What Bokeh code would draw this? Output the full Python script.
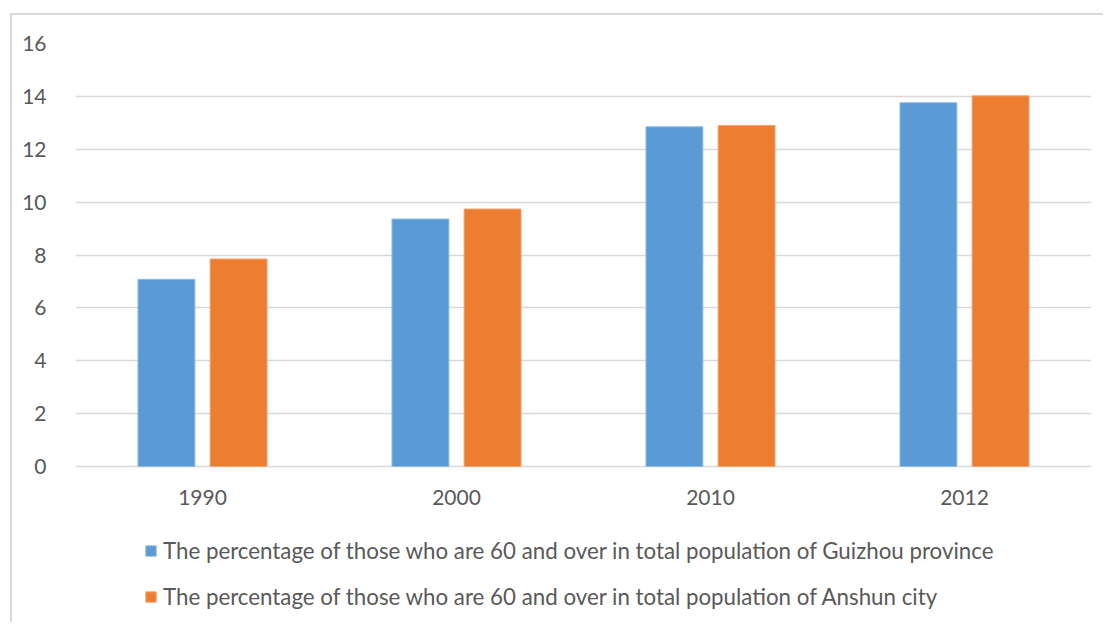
from bokeh.plotting import figure
from bokeh.models import ColumnDataSource, FactorRange, Range1d, FixedTicker, Legend, LegendItem
from bokeh.core.properties import value
from bokeh.transform import dodge
from bokeh.embed import file_html
from bokeh.resources import INLINE

# Share of the population aged 60 and over (%)
years = ["1990", "2000", "2010", "2012"]
guizhou = [7.08, 9.36, 12.85, 13.76]
anshun = [7.85, 9.74, 12.90, 14.02]
y_ticks = [0, 2, 4, 6, 8, 10, 12, 14, 16]
series_labels = [
    "The percentage of those who are 60 and over in total population of Guizhou province",
    "The percentage of those who are 60 and over in total population of Anshun city",
]

BLUE = "#5b9bd5"
ORANGE = "#ed7d31"
TEXT = "#595959"
GRID = "#d9d9d9"
FONT = "Lato"

source = ColumnDataSource(dict(year=years, guizhou=guizhou, anshun=anshun))

# The frame runs down to the bottom edge so the category labels and the
# legend can sit beneath the zero line without being clipped.
p = figure(
    width=1093, height=609,
    x_range=FactorRange(*years, range_padding=0),
    y_range=Range1d(-5.976, 16),
    output_backend="svg", toolbar_location=None,
    min_border_left=63, min_border_right=14, min_border_top=28, min_border_bottom=0,
)
p.margin = (13, 0, 0, 10)
p.styles = {"border-top": f"2px solid {GRID}", "border-left": f"2px solid {GRID}"}
p.outline_line_color = None

bw = 0.224
r1 = p.vbar(x=dodge("year", -0.142, range=p.x_range), top="guizhou", width=bw, source=source,
            fill_color=BLUE, line_color="#8fbbe3", line_width=1)
r2 = p.vbar(x=dodge("year", 0.142, range=p.x_range), top="anshun", width=bw, source=source,
            fill_color=ORANGE, line_color="#f3a574", line_width=1)

# Category labels under the zero line
p.text(x="year", y=0, text="year", source=source, y_offset=31,
       text_align="center", text_baseline="middle",
       text_font=value(FONT), text_font_size="21px", text_color=TEXT)

p.xaxis.visible = False
p.xgrid.grid_line_color = None
p.ygrid.grid_line_color = GRID
p.ygrid.grid_line_width = 1.5
p.yaxis.ticker = FixedTicker(ticks=y_ticks)

ax = p.yaxis[0]
ax.axis_line_color = None
ax.major_tick_line_color = None
ax.minor_tick_line_color = None
ax.major_label_text_color = TEXT
ax.major_label_text_font = FONT
ax.major_label_text_font_size = "21px"
ax.major_label_standoff = 23

legend = Legend(
    items=[LegendItem(label=series_labels[0], renderers=[r1]),
           LegendItem(label=series_labels[1], renderers=[r2])],
    location=(69, 14), orientation="vertical",
    glyph_width=13, glyph_height=13, label_standoff=6,
    label_height=28, spacing=18, padding=0, margin=0,
    label_text_font=FONT, label_text_font_size="22.3px", label_text_color=TEXT,
    border_line_color=None, background_fill_alpha=0,
)
p.add_layout(legend, "center")

open("out.html", "w").write(file_html(p, INLINE))
